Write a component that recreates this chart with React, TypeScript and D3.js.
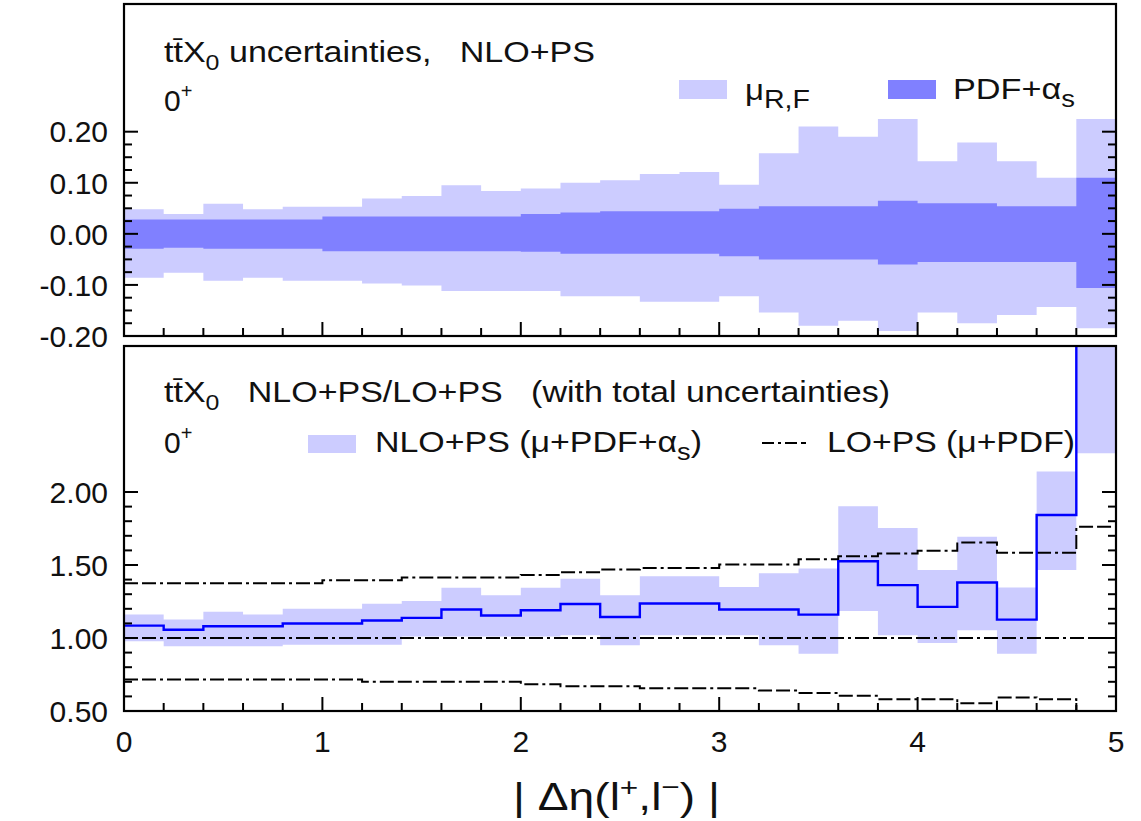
import React from 'react';
import * as d3 from 'd3';

// bin lower edges (width 0.2), last edge 5.0
const binLow = [0, 0.2, 0.4, 0.6, 0.8, 1.0, 1.2, 1.4, 1.6, 1.8, 2.0, 2.2, 2.4, 2.6, 2.8, 3.0, 3.2, 3.4, 3.6, 3.8, 4.0, 4.2, 4.4, 4.6, 4.8];
const lastEdge = 5.0;

// Top panel: relative uncertainties
const muUp = [0.048, 0.039, 0.059, 0.048, 0.053, 0.053, 0.069, 0.074, 0.095, 0.084, 0.089, 0.100, 0.105, 0.117, 0.121, 0.096, 0.158, 0.210, 0.190, 0.225, 0.142, 0.179, 0.142, 0.110, 0.225];
const muDn = [-0.086, -0.076, -0.092, -0.086, -0.092, -0.092, -0.097, -0.101, -0.112, -0.112, -0.112, -0.122, -0.122, -0.133, -0.133, -0.122, -0.154, -0.180, -0.170, -0.190, -0.154, -0.175, -0.159, -0.143, -0.185];
const pdfUp = [0.028, 0.028, 0.028, 0.028, 0.028, 0.034, 0.034, 0.034, 0.034, 0.034, 0.039, 0.042, 0.044, 0.044, 0.044, 0.049, 0.054, 0.054, 0.054, 0.065, 0.060, 0.060, 0.054, 0.054, 0.110];
const pdfDn = [-0.029, -0.027, -0.029, -0.029, -0.029, -0.034, -0.034, -0.034, -0.034, -0.034, -0.035, -0.039, -0.039, -0.039, -0.039, -0.044, -0.050, -0.050, -0.050, -0.060, -0.055, -0.055, -0.055, -0.055, -0.106];

// Bottom panel: NLO+PS / LO+PS
const nloC = [1.085, 1.057, 1.080, 1.080, 1.099, 1.099, 1.120, 1.138, 1.195, 1.154, 1.190, 1.233, 1.144, 1.236, 1.236, 1.195, 1.195, 1.160, 1.526, 1.362, 1.213, 1.380, 1.126, 1.842, 3.600];
const nloUp = [1.161, 1.126, 1.179, 1.161, 1.200, 1.200, 1.234, 1.253, 1.345, 1.292, 1.345, 1.405, 1.293, 1.423, 1.423, 1.350, 1.444, 1.476, 1.902, 1.753, 1.465, 1.693, 1.346, 2.140, 3.600];
const nloDn = [0.977, 0.943, 0.943, 0.943, 0.954, 0.954, 0.954, 1.011, 1.011, 1.011, 1.011, 1.018, 0.950, 1.018, 1.018, 1.018, 0.950, 0.892, 1.185, 1.018, 0.966, 1.053, 0.892, 1.465, 2.265];
const loUp = [1.375, 1.375, 1.375, 1.375, 1.375, 1.395, 1.395, 1.414, 1.414, 1.414, 1.432, 1.450, 1.469, 1.480, 1.480, 1.503, 1.503, 1.540, 1.560, 1.579, 1.597, 1.654, 1.584, 1.584, 1.762];
const loC = [1, 1, 1, 1, 1, 1, 1, 1, 1, 1, 1, 1, 1, 1, 1, 1, 1, 1, 1, 1, 1, 1, 1, 1, 1];
const loDn = [0.715, 0.715, 0.715, 0.715, 0.715, 0.715, 0.700, 0.700, 0.700, 0.700, 0.683, 0.670, 0.670, 0.655, 0.655, 0.655, 0.640, 0.623, 0.604, 0.581, 0.581, 0.553, 0.592, 0.581, 0.450];

// ticks
const xMajor = [0, 1, 2, 3, 4, 5];
const xMajorLabels = ['0', '1', '2', '3', '4', '5'];
const xMinorStep = 0.2;
const topMajor = [0.2, 0.1, 0.0, -0.1, -0.2];
const topMajorLabels = ['0.20', '0.10', '0.00', '-0.10', '-0.20'];
const topMinorStep = 0.025;
const botMajor = [2.0, 1.5, 1.0, 0.5];
const botMajorLabels = ['2.00', '1.50', '1.00', '0.50'];
const botMinorStep = 0.1;

const LIGHT = '#ccccff';
const DARK = '#8080ff';
const BLUE = '#0000ff';
const FONT = '"Liberation Sans", Arial, Helvetica, sans-serif';
const TXT = '#111';
const DASHDOT = '14,4,14,4,3,4';
const SP = '\u00A0';

const L = 124, R = 1116;
const TOP_T = 4, TOP_B = 336;
const BOT_T = 346, BOT_B = 711;

export default function App() {
  const x = d3.scaleLinear().domain([0, 5]).range([L, R]);
  const yT = d3.scaleLinear().domain([-0.2, 0.45]).range([TOP_B, TOP_T]);
  const yB = d3.scaleLinear().domain([0.5, 3.0]).range([BOT_B, BOT_T]);
  const edges = [...binLow, lastEdge];

  const band = (lo: number[], hi: number[], y: d3.ScaleLinear<number, number>) => {
    const pts = edges.map((e, i) => ({ e, lo: lo[Math.min(i, lo.length - 1)], hi: hi[Math.min(i, hi.length - 1)] }));
    return d3.area<any>().x(d => x(d.e)).y0(d => y(d.lo)).y1(d => y(d.hi)).curve(d3.curveStepAfter)(pts) || '';
  };
  const step = (v: number[], y: d3.ScaleLinear<number, number>) => {
    const pts = edges.map((e, i) => ({ e, v: v[Math.min(i, v.length - 1)] }));
    return d3.line<any>().x(d => x(d.e)).y(d => y(d.v)).curve(d3.curveStepAfter)(pts) || '';
  };

  const xMinor = d3.range(0, 5.0001, xMinorStep).filter(v => Math.abs(v - Math.round(v)) > 1e-6);
  const topMinor = d3.range(-0.2, 0.2001, topMinorStep).filter(v => !topMajor.some(m => Math.abs(m - v) < 1e-6));
  const botMinor = d3.range(0.5, 2.0001, botMinorStep).filter(v => !botMajor.some(m => Math.abs(m - v) < 1e-6));

  const yTicks = (y: d3.ScaleLinear<number, number>, major: number[], minor: number[], key: string) => (
    <g key={key} stroke="#000" strokeWidth={2}>
      {major.map((v, i) => (
        <g key={'M' + i}>
          <line x1={L} x2={L + 14} y1={y(v)} y2={y(v)} />
          <line x1={R} x2={R - 14} y1={y(v)} y2={y(v)} />
        </g>
      ))}
      {minor.map((v, i) => (
        <g key={'m' + i}>
          <line x1={L} x2={L + 8} y1={y(v)} y2={y(v)} />
          <line x1={R} x2={R - 8} y1={y(v)} y2={y(v)} />
        </g>
      ))}
    </g>
  );
  const xTicks = (yb: number, key: string) => (
    <g key={key} stroke="#000" strokeWidth={2}>
      {xMajor.map((v, i) => <line key={'M' + i} x1={x(v)} x2={x(v)} y1={yb} y2={yb - 14} />)}
      {xMinor.map((v, i) => <line key={'m' + i} x1={x(v)} x2={x(v)} y1={yb} y2={yb - 8} />)}
    </g>
  );

  return (
    <svg width={1141} height={821} style={{ position: 'absolute', left: 0, top: 0, background: '#fff' }}
      fontFamily={FONT}>
      <defs>
        <clipPath id="clipTop"><rect x={L} y={TOP_T} width={R - L} height={TOP_B - TOP_T} /></clipPath>
        <clipPath id="clipBot"><rect x={L} y={BOT_T} width={R - L} height={BOT_B - BOT_T} /></clipPath>
      </defs>
      <rect x={0} y={0} width={1141} height={821} fill="#fff" />

      {/* ---------- top panel ---------- */}
      <g clipPath="url(#clipTop)">
        <path d={band(muDn, muUp, yT)} fill={LIGHT} />
        <path d={band(pdfDn, pdfUp, yT)} fill={DARK} />
      </g>
      {yTicks(yT, topMajor, topMinor, 'yt')}
      {xTicks(TOP_B, 'xt')}
      <rect x={L} y={TOP_T} width={R - L} height={TOP_B - TOP_T} fill="none" stroke="#000" strokeWidth={2.2} />
      <g fill={TXT} fontSize={30} textAnchor="end">
        {topMajor.map((v, i) => (
          <text key={i} x={108} y={yT(v)} dy="0.36em">{topMajorLabels[i]}</text>
        ))}
      </g>
      <g fill={TXT} fontSize={30}>
        <text x={164} y={62} textLength={431} lengthAdjust="spacingAndGlyphs">tt&#x0304;X<tspan fontSize={22} dy={8}>0</tspan><tspan dy={-8}>{' uncertainties,' + SP + SP + SP + 'NLO+PS'}</tspan></text>
        <text x={164} y={111}>0<tspan fontSize={20} dy={-13}>+</tspan></text>
        <rect x={679} y={80} width={48} height={19} fill={LIGHT} />
        <text x={745} y={100} textLength={65} lengthAdjust="spacingAndGlyphs">μ<tspan fontSize={26} dy={8}>R,F</tspan></text>
        <rect x={888} y={80} width={48} height={19} fill={DARK} />
        <text x={953} y={99} textLength={122} lengthAdjust="spacingAndGlyphs">PDF+α<tspan fontSize={24} dy={8}>s</tspan></text>
      </g>

      {/* ---------- bottom panel ---------- */}
      <g clipPath="url(#clipBot)">
        <path d={band(nloDn, nloUp, yB)} fill={LIGHT} />
        <path d={step(loUp, yB)} fill="none" stroke="#000" strokeWidth={2} strokeDasharray={DASHDOT} />
        <path d={step(loC, yB)} fill="none" stroke="#000" strokeWidth={2} strokeDasharray={DASHDOT} />
        <path d={step(loDn, yB)} fill="none" stroke="#000" strokeWidth={2} strokeDasharray={DASHDOT} />
        <path d={step(nloC, yB)} fill="none" stroke={BLUE} strokeWidth={2.4} />
      </g>
      {yTicks(yB, botMajor, botMinor, 'yb')}
      {xTicks(BOT_B, 'xb')}
      <rect x={L} y={BOT_T} width={R - L} height={BOT_B - BOT_T} fill="none" stroke="#000" strokeWidth={2.2} />
      <g fill={TXT} fontSize={30} textAnchor="end">
        {botMajor.map((v, i) => (
          <text key={i} x={108} y={yB(v)} dy="0.36em">{botMajorLabels[i]}</text>
        ))}
      </g>
      <g fill={TXT} fontSize={30}>
        <text x={164} y={402} textLength={726} lengthAdjust="spacingAndGlyphs">tt&#x0304;X<tspan fontSize={22} dy={8}>0</tspan><tspan dy={-8}>{SP + SP + SP + 'NLO+PS/LO+PS' + SP + SP + SP + '(with total uncertainties)'}</tspan></text>
        <text x={164} y={453}>0<tspan fontSize={20} dy={-13}>+</tspan></text>
        <rect x={308} y={435} width={48} height={18} fill={LIGHT} />
        <text x={375} y={452} textLength={327} lengthAdjust="spacingAndGlyphs">NLO+PS (μ+PDF+α<tspan fontSize={24} dy={8}>s</tspan><tspan dy={-8}>)</tspan></text>
        <line x1={762} x2={806} y1={443} y2={443} stroke="#000" strokeWidth={2} strokeDasharray="12,4,3,4,12,4" />
        <text x={827} y={452} textLength={248} lengthAdjust="spacingAndGlyphs">LO+PS (μ+PDF)</text>
      </g>

      {/* x axis labels */}
      <g fill={TXT} fontSize={30} textAnchor="middle">
        {xMajor.map((v, i) => <text key={i} x={x(v)} y={752}>{xMajorLabels[i]}</text>)}
      </g>
      <text x={513} y={810} fill={TXT} fontSize={38} textLength={207} lengthAdjust="spacingAndGlyphs">
        {'|' + SP + 'Δη(l'}<tspan fontSize={26} dy={-14}>+</tspan><tspan dy={14}>,l</tspan><tspan fontSize={26} dy={-14}>−</tspan><tspan dy={14}>{')' + SP + '|'}</tspan>
      </text>
    </svg>
  );
}
